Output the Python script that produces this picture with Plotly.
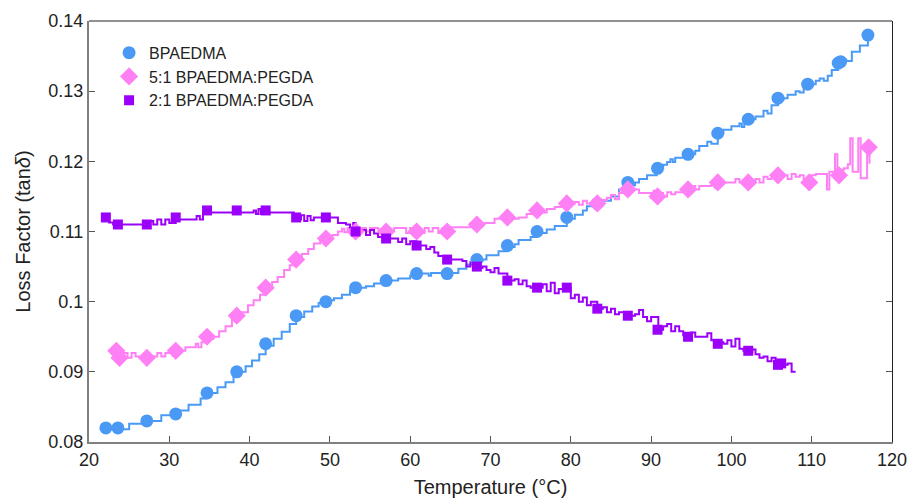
import plotly.graph_objects as go

# ---- measured traces (temperature in °C, loss factor tan δ) ----
bpa_line_t = [22.0, 24.0, 24.5, 25.0, 26.5, 27.0, 28.5, 29.0, 30.5, 31.0, 32.0, 32.4, 33.5, 33.9,
              34.6, 35.6, 36.0, 37.0, 38.0, 38.5, 39.5, 40.3, 41.2, 42.0, 43.0, 44.0, 45.0, 45.8,
              46.8, 47.8, 48.6, 49.5, 50.5, 51.5, 52.5, 53.2, 54.5, 55.5, 56.5, 57.0, 58.5, 59.5,
              60.0, 60.8, 62.0, 62.3, 62.6, 64.6, 65.5, 66.0, 67.0, 68.3, 69.0, 69.5, 70.5, 71.0,
              72.1, 73.0, 73.5, 75.0, 75.8, 77.0, 78.0, 79.5, 80.5, 81.5, 82.0, 83.3, 84.0, 85.0,
              86.0, 87.1, 88.0, 88.5, 89.5, 90.7, 91.5, 92.0, 92.4, 92.7, 93.0, 94.6, 95.5, 96.0,
              97.0, 97.5, 98.3, 99.0, 100.0, 101.0, 101.3, 101.6, 102.1, 103.0, 104.0, 104.5,
              105.0, 105.8, 106.5, 107.0, 108.0, 108.5, 109.0, 109.5, 110.5, 111.0, 111.5, 112.0,
              112.5, 113.3, 114.0, 114.3, 115.0, 116.0, 117.0]
bpa_line_v = [0.0818, 0.0818, 0.0818, 0.0826, 0.0826, 0.0830, 0.0830, 0.0838, 0.0838, 0.0845,
              0.0845, 0.0853, 0.0853, 0.0862, 0.0870, 0.0870, 0.0878, 0.0885, 0.0893, 0.0900,
              0.0908, 0.0916, 0.0925, 0.0937, 0.0947, 0.0957, 0.0968, 0.0978, 0.0986, 0.0993,
              0.0998, 0.1002, 0.1005, 0.1010, 0.1016, 0.1020, 0.1022, 0.1026, 0.1030, 0.1030,
              0.1033, 0.1033, 0.1037, 0.1040, 0.1040, 0.1037, 0.1041, 0.1041, 0.1041, 0.1047,
              0.1053, 0.1058, 0.1060, 0.1066, 0.1066, 0.1072, 0.1078, 0.1082, 0.1088, 0.1092,
              0.1098, 0.1103, 0.1108, 0.1118, 0.1124, 0.1130, 0.1136, 0.1140, 0.1144, 0.1150,
              0.1160, 0.1166, 0.1170, 0.1175, 0.1180, 0.1190, 0.1195, 0.1199, 0.1203, 0.1199,
              0.1205, 0.1210, 0.1215, 0.1222, 0.1228, 0.1225, 0.1240, 0.1245, 0.1250, 0.1254,
              0.1249, 0.1256, 0.1260, 0.1264, 0.1272, 0.1268, 0.1280, 0.1288, 0.1290, 0.1295,
              0.1300, 0.1298, 0.1306, 0.1310, 0.1315, 0.1318, 0.1315, 0.1322, 0.1330, 0.1338,
              0.1345, 0.1343, 0.1356, 0.1365, 0.1380]

mix51_line_t = [23.3, 23.8, 24.3, 24.8, 25.3, 25.8, 26.5, 27.2, 28.0, 28.5, 29.0, 29.5, 30.8,
                31.5, 32.0, 33.0, 33.3, 33.6, 34.0, 34.7, 35.5, 36.2, 37.0, 37.8, 38.4, 39.0,
                39.8, 40.5, 41.3, 42.0, 42.8, 43.5, 44.3, 45.0, 45.8, 46.5, 47.3, 48.0, 48.8,
                49.5, 50.3, 51.0, 51.5, 51.8, 52.2, 53.2, 54.0, 54.5, 55.0, 56.0, 56.5, 57.0,
                57.5, 58.0, 59.0, 59.5, 60.0, 60.8, 61.3, 61.8, 62.3, 62.8, 63.5, 64.0, 64.5,
                65.0, 67.0, 67.5, 68.3, 70.0, 70.5, 72.1, 73.5, 74.5, 75.8, 76.5, 77.0, 78.0,
                79.0, 79.5, 80.5, 81.0, 81.5, 82.0, 83.3, 84.5, 85.0, 85.5, 86.0, 87.1, 88.0,
                88.5, 89.5, 90.0, 90.3, 90.6, 91.0, 91.5, 92.0, 92.5, 93.0, 94.0, 94.6, 95.0,
                95.5, 96.0, 97.0, 97.5, 98.0, 98.3, 99.0, 100.0, 100.5, 101.0, 102.1, 103.0,
                103.5, 104.0, 104.5, 105.0, 105.8, 106.5, 107.0, 107.5, 108.0, 108.5, 109.0,
                109.5, 110.0, 110.5, 111.0, 111.3, 111.9, 112.2, 112.9, 113.2, 114.0, 114.5,
                114.8, 115.1, 115.8, 116.1, 116.9, 117.2, 117.3]
mix51_line_v = [0.0930, 0.0922, 0.0927, 0.0920, 0.0927, 0.0922, 0.0922, 0.0920, 0.0922, 0.0927,
                0.0922, 0.0927, 0.0927, 0.0930, 0.0935, 0.0935, 0.0940, 0.0935, 0.0942, 0.0947,
                0.0950, 0.0958, 0.0965, 0.0975, 0.0980, 0.0985, 0.0995, 0.1002, 0.1010, 0.1018,
                0.1028, 0.1035, 0.1045, 0.1052, 0.1060, 0.1068, 0.1075, 0.1083, 0.1088, 0.1092,
                0.1095, 0.1100, 0.1104, 0.1099, 0.1105, 0.1105, 0.1105, 0.1100, 0.1105, 0.1103,
                0.1095, 0.1105, 0.1100, 0.1105, 0.1105, 0.1098, 0.1105, 0.1105, 0.1098, 0.1105,
                0.1100, 0.1105, 0.1098, 0.1105, 0.1100, 0.1106, 0.1106, 0.1112, 0.1112, 0.1112,
                0.1118, 0.1118, 0.1120, 0.1125, 0.1130, 0.1127, 0.1132, 0.1135, 0.1138, 0.1140,
                0.1142, 0.1138, 0.1144, 0.1140, 0.1145, 0.1148, 0.1152, 0.1146, 0.1155, 0.1160,
                0.1160, 0.1155, 0.1155, 0.1148, 0.1158, 0.1150, 0.1155, 0.1150, 0.1156, 0.1153,
                0.1156, 0.1158, 0.1160, 0.1165, 0.1160, 0.1165, 0.1165, 0.1170, 0.1162, 0.1168,
                0.1170, 0.1170, 0.1175, 0.1170, 0.1172, 0.1175, 0.1170, 0.1178, 0.1175, 0.1178,
                0.1180, 0.1180, 0.1175, 0.1182, 0.1178, 0.1180, 0.1175, 0.1168, 0.1180, 0.1182,
                0.1182, 0.1182, 0.1160, 0.1185, 0.1210, 0.1188, 0.1190, 0.1196, 0.1233, 0.1185,
                0.1233, 0.1176, 0.1228, 0.1198, 0.1198]

mix21_line_t = [22.0, 22.5, 23.0, 24.0, 25.0, 26.5, 27.2, 27.6, 28.0, 28.5, 29.0, 29.5, 30.0,
                30.8, 32.0, 33.0, 33.4, 33.8, 34.2, 34.7, 36.0, 38.4, 40.0, 40.5, 40.8, 41.1,
                41.4, 42.0, 44.0, 45.0, 45.5, 46.0, 46.4, 46.8, 47.2, 47.6, 48.0, 49.5, 50.5,
                51.0, 52.0, 52.5, 52.9, 53.2, 54.0, 54.5, 55.0, 55.5, 56.0, 57.0, 58.0, 58.5,
                59.0, 59.5, 60.0, 60.8, 61.5, 62.0, 62.5, 63.0, 63.5, 64.6, 66.0, 66.5, 67.0,
                67.5, 68.3, 69.0, 69.5, 70.0, 70.5, 71.0, 72.1, 73.0, 73.5, 74.0, 74.5, 75.0,
                75.8, 76.5, 77.0, 77.5, 78.0, 78.5, 79.5, 80.0, 80.5, 81.0, 81.5, 82.0, 82.5,
                83.3, 84.0, 84.5, 85.0, 85.5, 86.0, 87.1, 88.0, 88.5, 89.0, 89.5, 90.0, 90.9,
                91.5, 92.0, 92.5, 93.0, 93.5, 94.0, 94.6, 95.0, 95.5, 96.0, 96.5, 97.0, 97.5,
                98.3, 99.0, 99.5, 100.0, 100.5, 101.0, 101.5, 102.1, 102.6, 103.0, 103.5, 104.0,
                104.5, 105.0, 105.5, 106.0, 106.5, 107.0, 107.5, 108.0]
mix21_line_v = [0.1120, 0.1113, 0.1110, 0.1110, 0.1110, 0.1110, 0.1110, 0.1115, 0.1110, 0.1117,
                0.1110, 0.1117, 0.1112, 0.1117, 0.1117, 0.1117, 0.1122, 0.1117, 0.1125, 0.1127,
                0.1127, 0.1127, 0.1127, 0.1130, 0.1125, 0.1132, 0.1125, 0.1127, 0.1127, 0.1127,
                0.1120, 0.1117, 0.1123, 0.1115, 0.1122, 0.1116, 0.1120, 0.1120, 0.1120, 0.1112,
                0.1110, 0.1105, 0.1112, 0.1100, 0.1102, 0.1095, 0.1102, 0.1097, 0.1092, 0.1090,
                0.1090, 0.1085, 0.1090, 0.1082, 0.1086, 0.1080, 0.1080, 0.1075, 0.1078, 0.1070,
                0.1065, 0.1060, 0.1060, 0.1058, 0.1050, 0.1056, 0.1048, 0.1050, 0.1045, 0.1042,
                0.1048, 0.1040, 0.1030, 0.1032, 0.1025, 0.1030, 0.1022, 0.1020, 0.1020, 0.1025,
                0.1015, 0.1027, 0.1012, 0.1018, 0.1020, 0.1005, 0.1010, 0.1000, 0.1006, 0.0995,
                0.1000, 0.0990, 0.0992, 0.0985, 0.0990, 0.0982, 0.0985, 0.0980, 0.0982, 0.0988,
                0.0978, 0.0972, 0.0978, 0.0960, 0.0965, 0.0968, 0.0958, 0.0965, 0.0958, 0.0952,
                0.0950, 0.0956, 0.0950, 0.0950, 0.0950, 0.0955, 0.0945, 0.0942, 0.0940, 0.0945,
                0.0936, 0.0947, 0.0933, 0.0930, 0.0928, 0.0932, 0.0925, 0.0920, 0.0922, 0.0915,
                0.0920, 0.0910, 0.0915, 0.0910, 0.0912, 0.0900, 0.0900]

# ---- marker positions ----
bpa_mark_t = [22.1, 23.6, 27.2, 30.8, 34.7, 38.4, 42.0, 45.8, 49.5, 53.2, 57.0, 60.8, 64.6, 68.3,
              72.1, 75.8, 79.5, 83.3, 87.1, 90.8, 94.6, 98.3, 102.1, 105.8, 109.5, 113.3, 113.6, 117.0]
bpa_mark_v = [0.082, 0.082, 0.083, 0.084, 0.087, 0.090, 0.094, 0.098, 0.100, 0.102, 0.103, 0.104,
              0.104, 0.106, 0.108, 0.110, 0.112, 0.114, 0.117, 0.119, 0.121, 0.124, 0.126, 0.129,
              0.131, 0.134, 0.1342, 0.138]

mix51_mark_t = [23.4, 23.8, 27.2, 30.8, 34.7, 38.4, 42.0, 45.8, 49.5, 53.2, 57.0, 60.8, 64.6, 68.3,
                72.1, 75.8, 79.5, 83.3, 87.1, 90.8, 94.6, 98.3, 102.1, 105.8, 109.7, 113.4, 117.1]
mix51_mark_v = [0.0930, 0.0920, 0.0920, 0.0930, 0.0950, 0.0980, 0.1020, 0.1060, 0.1090, 0.1100,
                0.1100, 0.1100, 0.1100, 0.1110, 0.1120, 0.1130, 0.1140, 0.1140, 0.1160, 0.1150,
                0.1160, 0.1170, 0.1170, 0.1180, 0.1170, 0.1180, 0.1220]

mix21_mark_t = [22.1, 23.6, 27.2, 30.8, 34.7, 38.4, 42.0, 45.8, 49.5, 53.2, 57.0, 60.8, 64.6, 68.3,
                72.1, 75.8, 79.5, 83.3, 87.1, 90.8, 94.6, 98.3, 102.1, 105.8, 106.2]
mix21_mark_v = [0.112, 0.111, 0.111, 0.112, 0.113, 0.113, 0.113, 0.112, 0.112, 0.110, 0.109, 0.108,
                0.106, 0.105, 0.103, 0.102, 0.102, 0.099, 0.098, 0.096, 0.095, 0.094, 0.093, 0.091,
                0.0912]

series_names = ["BPAEDMA", "5:1 BPAEDMA:PEGDA", "2:1 BPAEDMA:PEGDA"]
series_colors = ["#4a9af5", "#ff80f5", "#9b00fa"]
series_symbols = ["circle", "diamond", "square"]
x_ticks = [20, 30, 40, 50, 60, 70, 80, 90, 100, 110, 120]
y_ticks = [0.08, 0.09, 0.10, 0.11, 0.12, 0.13, 0.14]
y_tick_text = ["0.08", "0.09", "0.1", "0.11", "0.12", "0.13", "0.14"]

lines = [(bpa_line_t, bpa_line_v), (mix51_line_t, mix51_line_v), (mix21_line_t, mix21_line_v)]
marks = [(bpa_mark_t, bpa_mark_v), (mix51_mark_t, mix51_mark_v), (mix21_mark_t, mix21_mark_v)]
marker_sizes = [13, 14, 10]

fig = go.Figure()
for (lt, lv), color in zip(lines, series_colors):
    # instrument readings are quantised, so the traces are drawn as steps
    fig.add_trace(go.Scatter(x=lt, y=lv, mode="lines", showlegend=False,
                             line=dict(color=color, width=2, shape="hv"), hoverinfo="skip"))
for (mt, mv), name, color, sym, size in zip(marks, series_names, series_colors,
                                            series_symbols, marker_sizes):
    fig.add_trace(go.Scatter(x=mt, y=mv, mode="markers", name=name,
                             marker=dict(color=color, symbol=sym, size=size, line=dict(width=0))))

font_family = "Liberation Sans, Arial, sans-serif"
fig.update_layout(
    width=912, height=500,
    margin=dict(l=89, r=20, t=21, b=58),
    paper_bgcolor="white", plot_bgcolor="white",
    font=dict(family=font_family, color="#222222"),
    showlegend=True,
    legend=dict(x=0.025, y=0.965, xanchor="left", yanchor="top", bgcolor="rgba(0,0,0,0)",
                font=dict(size=16, color="#222222"), itemsizing="trace", tracegroupgap=0,
                itemwidth=30),
    xaxis=dict(range=[20, 120], tickvals=x_ticks, ticks="inside", ticklen=6, tickwidth=1,
               tickcolor="#555555", showline=True, linecolor="#808080", linewidth=2,
               showgrid=False, zeroline=False, tickfont=dict(size=18), automargin=False,
               title=dict(text="Temperature (°C)", font=dict(size=20), standoff=11)),
    yaxis=dict(range=[0.08, 0.14], tickvals=y_ticks, ticktext=y_tick_text, ticks="inside",
               ticklen=6, tickwidth=1, tickcolor="#555555", showline=True, linecolor="#808080",
               linewidth=2, showgrid=False, zeroline=False, tickfont=dict(size=18),
               automargin=False,
               title=dict(text="Loss Factor (tan<i>δ</i>)", font=dict(size=20), standoff=12)),
    yaxis2=dict(range=[0.08, 0.14], tickvals=y_ticks, overlaying="y", side="right",
                ticks="inside", ticklen=6, tickwidth=1, tickcolor="#555555",
                showticklabels=False, showline=True, linecolor="#222222", linewidth=1,
                showgrid=False, zeroline=False, automargin=False),
    shapes=[dict(type="line", xref="paper", yref="paper", x0=0, x1=1, y0=1, y1=1,
                 line=dict(color="#222222", width=1))],
)
# invisible trace to activate the right-hand axis
fig.add_trace(go.Scatter(x=[20], y=[0.08], yaxis="y2", mode="markers", showlegend=False,
                         marker=dict(opacity=0), hoverinfo="skip"))

fig.write_html("out.html")
